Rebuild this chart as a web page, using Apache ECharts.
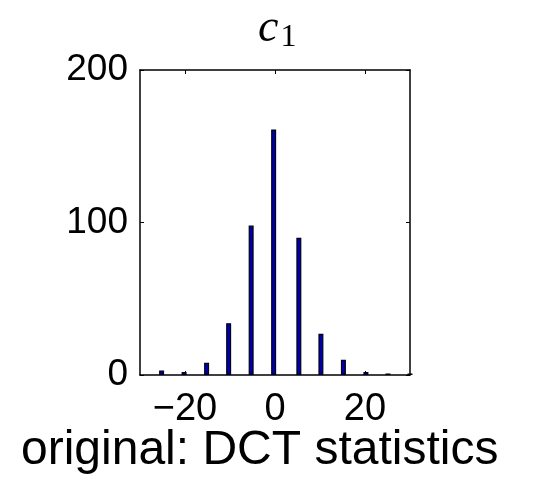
<!DOCTYPE html>
<html>
<head>
<meta charset="utf-8">
<script src="https://cdn.jsdelivr.net/npm/echarts@6/dist/echarts.min.js"></script>
<style>
  html, body { margin: 0; padding: 0; background: #fff; }
  #chart { width: 537px; height: 490px; }
</style>
</head>
<body>
<div id="chart"></div>
<script>
// Histogram of DCT coefficient c1: bin centres and counts
const binCenters = [-25.2, -20.2, -15.2, -10.3, -5.3, -0.3, 5.3, 10.2, 15.2, 20.2, 25.1, 30];
const binCounts  = [3, 2, 8, 34, 98, 161, 90, 27, 10, 2, 1, 1];

const xTicks = [-20, 0, 20];
const yTicks = [0, 100, 200];
const xRange = [-30, 30];
const yRange = [0, 200];

const chartTitle = 'original: DCT statistics';

const font = '"Liberation Sans", Arial, Helvetica, sans-serif';
const minus = v => String(v).replace('-', '\u2212');

const chart = echarts.init(document.getElementById('chart'), null, { renderer: 'canvas' });

const boxLine = { show: true, onZero: false, lineStyle: { color: '#000', width: 1.5 } };
const inTick = (vals) => ({ show: true, inside: true, length: 4, customValues: vals, lineStyle: { color: '#000', width: 1 } });

chart.setOption({
  animation: false,
  backgroundColor: '#fff',
  grid: { left: 140, right: 127, top: 70, bottom: 115, containLabel: false },
  xAxis: [
    {
      type: 'value', position: 'bottom', min: xRange[0], max: xRange[1],
      axisLine: boxLine, axisTick: inTick(xTicks), splitLine: { show: false },
      axisLabel: { customValues: xTicks, formatter: minus, color: '#000', fontSize: 38, fontFamily: font, margin: 16 }
    },
    {
      type: 'value', position: 'top', min: xRange[0], max: xRange[1],
      axisLine: boxLine, axisTick: inTick(xTicks), splitLine: { show: false },
      axisLabel: { show: false }
    }
  ],
  yAxis: [
    {
      type: 'value', position: 'left', min: yRange[0], max: yRange[1],
      axisLine: boxLine, axisTick: inTick(yTicks), splitLine: { show: false },
      axisLabel: { customValues: yTicks, color: '#000', fontSize: 37, fontFamily: font, margin: 12 }
    },
    {
      type: 'value', position: 'right', min: yRange[0], max: yRange[1],
      axisLine: boxLine, axisTick: inTick(yTicks), splitLine: { show: false },
      axisLabel: { show: false }
    }
  ],
  series: [{
    type: 'bar',
    xAxisIndex: 0, yAxisIndex: 0,
    barWidth: 5,
    data: binCenters.map((x, i) => [x, binCounts[i]]),
    itemStyle: { color: '#0000a8', borderColor: '#000018', borderWidth: 1.2 }
  }],
  graphic: [
    {
      type: 'text', left: 258, top: 6,
      style: {
        text: '{c|c}{s|1}',
        rich: {
          c: { fontFamily: '"Liberation Serif", "DejaVu Serif", serif', fontStyle: 'italic', fontSize: 46, fill: '#000' },
          s: { fontFamily: '"Liberation Serif", "DejaVu Serif", serif', fontSize: 32, fill: '#000', padding: [18, 0, 0, 2] }
        }
      }
    },
    {
      type: 'text', left: 21, top: 427,
      style: { text: chartTitle, fontFamily: font, fontSize: 48, fill: '#000' }
    }
  ]
});
</script>
</body>
</html>
